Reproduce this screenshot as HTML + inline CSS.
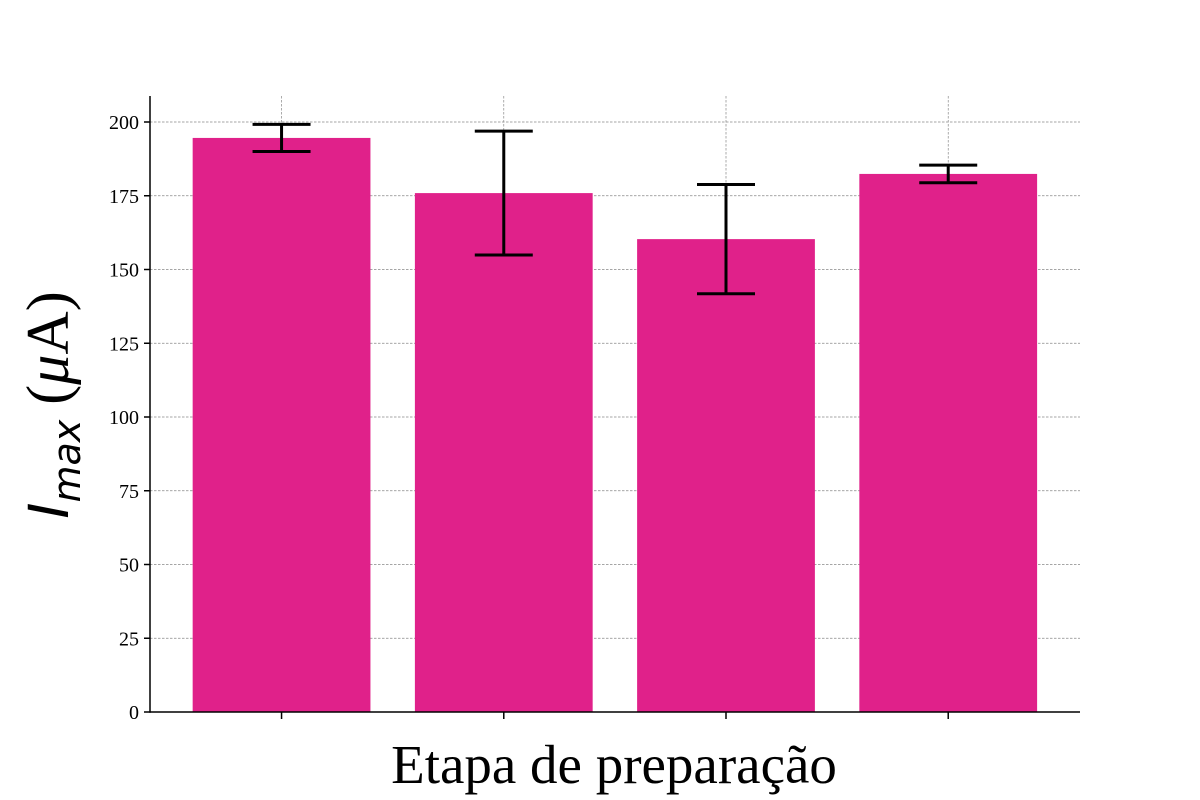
<!DOCTYPE html>
<html><head><meta charset="utf-8"><style>
html,body{margin:0;padding:0;background:#fff;width:1200px;height:800px;overflow:hidden}
svg text{font-family:"Liberation Serif","DejaVu Serif",serif}
</style></head><body>
<svg id="chart" width="1200" height="800" viewBox="0 0 1200 800" xmlns="http://www.w3.org/2000/svg">
<g id="grid"></g>
<g id="bars"></g>
<g id="errs"></g>
<g id="axes"></g>
<text x="614" y="783" font-size="55" text-anchor="middle">Etapa de preparação</text>
<text transform="translate(68,405) rotate(-90)" font-size="60" text-anchor="middle"><tspan font-style="italic" font-family="'DejaVu Sans',sans-serif" font-size="55">I</tspan><tspan font-style="italic" font-family="'DejaVu Sans',sans-serif" font-size="38" dy="12">max</tspan><tspan dy="-12"> (</tspan><tspan font-style="italic">μ</tspan><tspan>A)</tspan></text>
</svg>
<script>
const categories = ["1","2","3","4"];
const values = [194.6, 175.9, 160.3, 182.4];
const errors = [4.6, 21, 18.5, 3];
const yTicks = [0,25,50,75,100,125,150,175,200];

const L=150,R=1080,B=712,T=96;
const yScale=v=>B-v*2.95;
const xScale=i=>L+(i+0.592)*(R-L)/4.185;
const bw=0.8*(R-L)/4.185;
const NS="http://www.w3.org/2000/svg";
function mk(tag,attrs,parent){const e=document.createElementNS(NS,tag);for(const k in attrs)e.setAttribute(k,attrs[k]);parent.appendChild(e);return e;}
const grid=document.getElementById('grid'),bars=document.getElementById('bars'),errs=document.getElementById('errs'),axes=document.getElementById('axes');
yTicks.forEach(t=>{
  const y=yScale(t);
  if(t>0){const g=mk('line',{x1:L,x2:R,y1:y,y2:y,stroke:'#888','stroke-width':0.7,'stroke-dasharray':'2.5,1.5'},grid);
  
  }
  const tk=mk('line',{x1:L-6,x2:L,y1:y,y2:y,stroke:'#000','stroke-width':1.5},axes);
  
  
  const lb=mk('text',{x:L-11,y:y+7,'font-size':20,'text-anchor':'end'},axes);
  lb.textContent=t;
  
  
});
categories.forEach((c,i)=>{
  const x=xScale(i);
  const g=mk('line',{x1:x,x2:x,y1:T,y2:B,stroke:'#888','stroke-width':0.7,'stroke-dasharray':'2.5,1.5'},grid);
  
  
  const r=mk('rect',{x:x-bw/2,y:yScale(values[i]),width:bw,height:B-yScale(values[i]),fill:'#e0218a'},bars);
  
  
  const hi=yScale(values[i]+errors[i]),lo=yScale(values[i]-errors[i]);
  const eg=mk('g',{stroke:'#000','stroke-width':3},errs);
  
  
  mk('line',{x1:x,x2:x,y1:hi,y2:lo},eg);
  mk('line',{x1:x-29,x2:x+29,y1:hi,y2:hi},eg);
  mk('line',{x1:x-29,x2:x+29,y1:lo,y2:lo},eg);
  const tk=mk('line',{x1:x,x2:x,y1:B,y2:B+7,stroke:'#000','stroke-width':1.5},axes);
  
  
});
const ya=mk('line',{x1:L,x2:L,y1:T,y2:B+0.75,stroke:'#000','stroke-width':1.5},axes);


const xa=mk('line',{x1:L,x2:R,y1:B,y2:B,stroke:'#000','stroke-width':1.5},axes);


</script>
</body></html>
